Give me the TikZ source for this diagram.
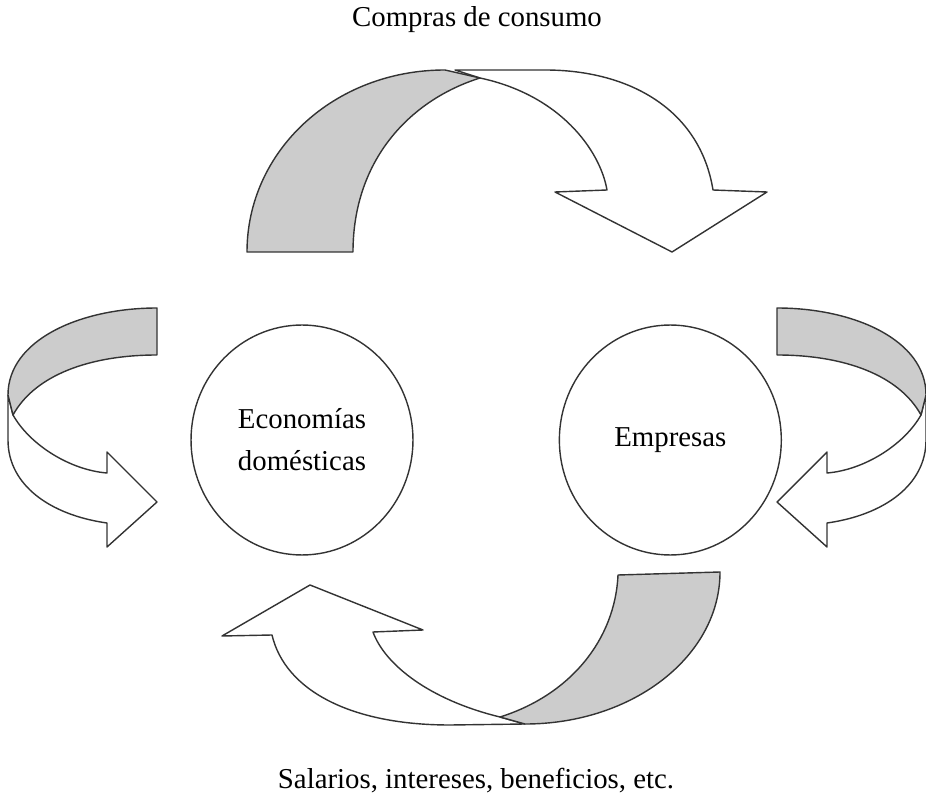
\documentclass[tikz,border=0pt]{standalone}
\usepackage{fontspec}
\setmainfont{Liberation Serif}
\usetikzlibrary{positioning, shapes.geometric}

\tikzset{
  bubble/.style={draw=black!80, line width=0.8pt, ellipse, minimum width=4.44cm,
    minimum height=4.6cm, inner sep=0, align=center, font=\fontsize{16.4}{24}\selectfont},
  front/.style={draw=black!80, line width=0.8pt, fill=white, line join=round},
  back/.style={front, fill=gray!40},
  caption/.style={font=\fontsize{16.4}{20}\selectfont, anchor=base}
}

% the side ribbon, drawn for the left; mirrored for the right
\newcommand{\sideribbon}{
  \draw[front] (13,415) .. controls (30,445) and (70,470) .. (107,473)
    -- (107,452) -- (157,502) -- (107,547) -- (107,523)
    .. controls (50,515) and (8,485) .. (8,440) -- (8,395) -- cycle;
  \draw[back] (157,308) .. controls (80,308) and (8,340) .. (8,395)
    -- (13,415) .. controls (35,375) and (90,355) .. (157,355) -- cycle;
}

\begin{document}
\begin{tikzpicture}[x=0.02cm, y=-0.02cm]
  \useasboundingbox (0,0) rectangle (926,793);

  \node[bubble] (hogares) at (302,440) {Econom\'ias\\dom\'esticas};
  \node[bubble, right=2.9cm of hogares] (empresas) {Empresas};

  \node[caption] (compras) at (477,27) {Compras de consumo};
  \node[caption] (salarios) at (476,788) {Salarios, intereses, beneficios, etc.};

  % top ribbon
  \draw[front] (480,78) .. controls (560,95) and (600,150) .. (607,190)
    -- (555,192) -- (672,252) -- (767,192) -- (713,190)
    .. controls (700,110) and (630,70) .. (545,70) -- (455,70) -- cycle;
  \draw[back] (247,252) .. controls (247,151) and (334,70) .. (445,70)
    -- (480,78) .. controls (410,100) and (353,160) .. (353,252) -- cycle;

  % bottom ribbon
  \draw[front] (500,717) .. controls (430,700) and (385,665) .. (373,632)
    -- (423,630) -- (310,585) -- (222,636) -- (272,635)
    .. controls (285,690) and (350,725) .. (450,725) -- (525,724) -- cycle;
  \draw[back] (720,572) .. controls (720,656) and (633,724) .. (525,724)
    -- (500,717) .. controls (570,695) and (615,640) .. (618,575) -- cycle;

  % side ribbons
  \sideribbon
  \begin{scope}[shift={(934,0)}, xscale=-1]
    \sideribbon
  \end{scope}
\end{tikzpicture}
\end{document}
